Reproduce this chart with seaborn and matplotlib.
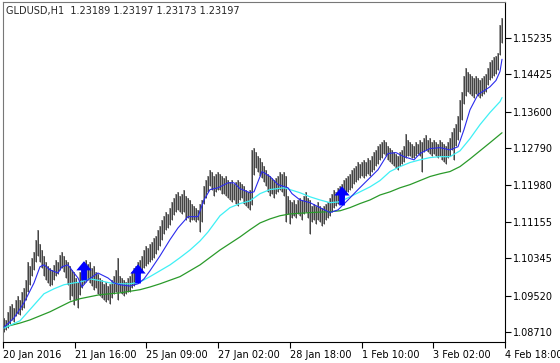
import numpy as np
import pandas as pd
import seaborn as sns
import matplotlib.pyplot as plt
from matplotlib.path import Path

# --- chart data ---
chart_title = "GLDUSD,H1  1.23189 1.23197 1.23173 1.23197"

bar_high = [
    1.0902, 1.0898, 1.0916, 1.0929, 1.0933, 1.0924, 1.0942, 1.0951, 1.0942, 1.0960,
    1.0969, 1.0987, 1.1027, 1.1018, 1.1036, 1.1049, 1.1076, 1.1098, 1.1067, 1.1053,
    1.1040, 1.1027, 1.1018, 1.1013, 1.1009, 1.1020, 1.1031, 1.1027, 1.1042, 1.1049,
    1.1040, 1.1031, 1.1027, 1.1018, 1.1009, 1.1004, 1.0991, 1.0982, 1.1004, 1.1018,
    1.1027, 1.1031, 1.1022, 1.1027, 1.1013, 1.1018, 1.1004, 1.1000, 1.0991, 1.0987,
    1.0978, 1.0982, 1.0973, 1.0978, 1.0987, 1.0996, 1.1009, 1.1036, 1.0996, 1.0991,
    1.0987, 1.0982, 1.0991, 1.0996, 1.1004, 1.1013, 1.1018, 1.1027, 1.1031, 1.1040,
    1.1053, 1.1062, 1.1058, 1.1067, 1.1071, 1.1080, 1.1084, 1.1098, 1.1107, 1.1120,
    1.1129, 1.1138, 1.1133, 1.1147, 1.1160, 1.1169, 1.1178, 1.1182, 1.1173, 1.1178,
    1.1187, 1.1173, 1.1169, 1.1164, 1.1155, 1.1151, 1.1147, 1.1142, 1.1155, 1.1164,
    1.1195, 1.1209, 1.1218, 1.1231, 1.1227, 1.1218, 1.1222, 1.1227, 1.1222, 1.1218,
    1.1213, 1.1218, 1.1209, 1.1204, 1.1209, 1.1200, 1.1204, 1.1209, 1.1204, 1.1200,
    1.1195, 1.1187, 1.1182, 1.1187, 1.1275, 1.1280, 1.1271, 1.1262, 1.1258, 1.1249,
    1.1240, 1.1231, 1.1222, 1.1218, 1.1213, 1.1209, 1.1213, 1.1218, 1.1227, 1.1222,
    1.1227, 1.1218, 1.1173, 1.1164, 1.1160, 1.1164, 1.1155, 1.1164, 1.1169, 1.1164,
    1.1173, 1.1182, 1.1169, 1.1164, 1.1151, 1.1155, 1.1151, 1.1160, 1.1151, 1.1147,
    1.1151, 1.1155, 1.1160, 1.1169, 1.1178, 1.1187, 1.1182, 1.1191, 1.1195, 1.1200,
    1.1209, 1.1213, 1.1218, 1.1222, 1.1231, 1.1235, 1.1240, 1.1249, 1.1244, 1.1249,
    1.1253, 1.1249, 1.1258, 1.1253, 1.1262, 1.1271, 1.1275, 1.1284, 1.1289, 1.1293,
    1.1298, 1.1293, 1.1284, 1.1280, 1.1275, 1.1271, 1.1267, 1.1262, 1.1271, 1.1275,
    1.1284, 1.1311, 1.1298, 1.1293, 1.1289, 1.1284, 1.1293, 1.1289, 1.1298, 1.1293,
    1.1302, 1.1307, 1.1298, 1.1302, 1.1293, 1.1298, 1.1293, 1.1289, 1.1298, 1.1293,
    1.1289, 1.1284, 1.1293, 1.1302, 1.1315, 1.1324, 1.1333, 1.1351, 1.1386, 1.1404,
    1.1440, 1.1457, 1.1448, 1.1444, 1.1440, 1.1435, 1.1440, 1.1435, 1.1431, 1.1435,
    1.1440, 1.1444, 1.1457, 1.1471, 1.1475, 1.1480, 1.1484, 1.1489, 1.1551, 1.1568,
]

bar_low = [
    1.0872, 1.0876, 1.0880, 1.0889, 1.0898, 1.0893, 1.0907, 1.0911, 1.0909, 1.0920,
    1.0924, 1.0942, 1.0960, 1.0976, 1.0996, 1.1009, 1.1027, 1.1040, 1.1027, 1.1013,
    1.0996, 1.0987, 1.0980, 1.0973, 1.0976, 1.0987, 1.0996, 1.1000, 1.1009, 1.1013,
    1.1004, 1.0991, 1.0976, 1.0942, 1.0951, 1.0931, 1.0942, 1.0924, 1.0953, 1.0969,
    1.0978, 1.0982, 1.0987, 1.0980, 1.0973, 1.0965, 1.0969, 1.0956, 1.0951, 1.0947,
    1.0942, 1.0938, 1.0942, 1.0933, 1.0947, 1.0956, 1.0960, 1.0942, 1.0960, 1.0956,
    1.0951, 1.0956, 1.0960, 1.0960, 1.0969, 1.0973, 1.0987, 1.0996, 1.1000, 1.1004,
    1.1013, 1.1018, 1.1022, 1.1027, 1.1031, 1.1036, 1.1044, 1.1053, 1.1062, 1.1076,
    1.1089, 1.1098, 1.1102, 1.1109, 1.1120, 1.1131, 1.1138, 1.1142, 1.1138, 1.1133,
    1.1138, 1.1120, 1.1124, 1.1116, 1.1120, 1.1120, 1.1116, 1.1120, 1.1093, 1.1116,
    1.1155, 1.1169, 1.1182, 1.1195, 1.1187, 1.1173, 1.1182, 1.1187, 1.1187, 1.1178,
    1.1178, 1.1173, 1.1169, 1.1164, 1.1160, 1.1164, 1.1155, 1.1151, 1.1164, 1.1169,
    1.1155, 1.1151, 1.1147, 1.1142, 1.1153, 1.1220, 1.1235, 1.1227, 1.1218, 1.1213,
    1.1204, 1.1195, 1.1182, 1.1173, 1.1178, 1.1169, 1.1178, 1.1182, 1.1187, 1.1182,
    1.1173, 1.1116, 1.1133, 1.1111, 1.1124, 1.1129, 1.1124, 1.1133, 1.1129, 1.1120,
    1.1133, 1.1138, 1.1124, 1.1089, 1.1116, 1.1120, 1.1111, 1.1120, 1.1116, 1.1107,
    1.1111, 1.1120, 1.1124, 1.1129, 1.1138, 1.1147, 1.1151, 1.1155, 1.1160, 1.1164,
    1.1169, 1.1178, 1.1182, 1.1187, 1.1191, 1.1200, 1.1204, 1.1209, 1.1213, 1.1218,
    1.1213, 1.1218, 1.1222, 1.1218, 1.1227, 1.1231, 1.1240, 1.1244, 1.1253, 1.1258,
    1.1267, 1.1262, 1.1253, 1.1249, 1.1244, 1.1240, 1.1235, 1.1231, 1.1240, 1.1244,
    1.1249, 1.1258, 1.1262, 1.1262, 1.1258, 1.1258, 1.1262, 1.1267, 1.1262, 1.1227,
    1.1271, 1.1275, 1.1271, 1.1267, 1.1262, 1.1267, 1.1262, 1.1258, 1.1262, 1.1253,
    1.1249, 1.1244, 1.1258, 1.1262, 1.1275, 1.1253, 1.1284, 1.1298, 1.1315, 1.1342,
    1.1377, 1.1395, 1.1404, 1.1400, 1.1395, 1.1391, 1.1400, 1.1395, 1.1391, 1.1395,
    1.1400, 1.1404, 1.1418, 1.1431, 1.1435, 1.1440, 1.1444, 1.1453, 1.1486, 1.1511,
]

# moving averages, sampled at these bar numbers
fast_ma_bar = [0, 5, 10, 15, 18, 20, 23, 27, 29, 32, 35, 37, 39, 42, 47, 52, 55, 58,
               63, 67, 70, 73, 78, 83, 87, 92, 97, 100, 103, 107, 112, 115, 118, 123,
               125, 129, 133, 137, 142, 144, 148, 153, 158, 163, 167, 172, 177, 182,
               187, 192, 196, 200, 205, 208, 213, 218, 223, 227, 230, 233, 237, 241,
               243, 246, 248, 249]
fast_ma = [1.0882, 1.0902, 1.0936, 1.0980, 1.1016, 1.1020, 1.1009, 1.1002, 1.1016,
           1.1020, 1.1002, 1.0991, 1.0971, 1.0987, 1.1002, 1.0991, 1.0980, 1.0976,
           1.0973, 1.0978, 1.0989, 1.1007, 1.1040, 1.1076, 1.1102, 1.1127, 1.1127,
           1.1164, 1.1187, 1.1191, 1.1202, 1.1202, 1.1189, 1.1180, 1.1182, 1.1227,
           1.1216, 1.1198, 1.1191, 1.1178, 1.1164, 1.1158, 1.1147, 1.1136, 1.1142,
           1.1164, 1.1187, 1.1209, 1.1231, 1.1267, 1.1269, 1.1260, 1.1253, 1.1267,
           1.1278, 1.1280, 1.1275, 1.1282, 1.1320, 1.1364, 1.1398, 1.1409, 1.1415,
           1.1429, 1.1449, 1.1476]

mid_ma_bar = [0, 8, 12, 15, 20, 25, 30, 35, 38, 43, 48, 53, 58, 63, 68, 73, 78, 83,
              88, 93, 98, 102, 108, 113, 118, 123, 128, 133, 140, 143, 148, 153, 158,
              163, 168, 173, 178, 183, 188, 193, 198, 203, 208, 213, 218, 223, 228,
              233, 238, 243, 248, 249]
mid_ma = [1.0880, 1.0896, 1.0916, 1.0931, 1.0956, 1.0967, 1.0976, 1.0980, 1.0982,
          1.0989, 1.0985, 1.0980, 1.0978, 1.0978, 1.0982, 1.0994, 1.1007, 1.1020,
          1.1036, 1.1053, 1.1073, 1.1093, 1.1129, 1.1147, 1.1156, 1.1162, 1.1178,
          1.1187, 1.1191, 1.1187, 1.1180, 1.1171, 1.1164, 1.1158, 1.1160, 1.1171,
          1.1182, 1.1193, 1.1207, 1.1227, 1.1238, 1.1247, 1.1253, 1.1258, 1.1260,
          1.1260, 1.1273, 1.1300, 1.1331, 1.1358, 1.1382, 1.1391]

slow_ma_bar = [0, 8, 13, 18, 23, 28, 33, 38, 48, 58, 68, 73, 78, 88, 98, 108, 118,
               123, 128, 133, 138, 143, 153, 163, 168, 173, 178, 183, 188, 193, 198,
               203, 208, 213, 218, 223, 228, 233, 238, 243, 249]
slow_ma = [1.0882, 1.0891, 1.0898, 1.0907, 1.0916, 1.0927, 1.0938, 1.0945, 1.0954,
           1.0958, 1.0965, 1.0971, 1.0978, 1.0994, 1.1020, 1.1053, 1.1082, 1.1098,
           1.1113, 1.1122, 1.1129, 1.1133, 1.1136, 1.1138, 1.1140, 1.1147, 1.1156,
           1.1164, 1.1175, 1.1182, 1.1191, 1.1198, 1.1207, 1.1216, 1.1222, 1.1227,
           1.1238, 1.1255, 1.1273, 1.1291, 1.1313]

# buy signal arrows
signal_bar = [40, 67, 169]
signal_price = [1.1007, 1.1000, 1.1173]

time_labels = ["20 Jan 2016", "21 Jan 16:00", "25 Jan 09:00", "27 Jan 02:00",
               "28 Jan 18:00", "1 Feb 10:00", "3 Feb 02:00", "4 Feb 18:00"]
price_ticks = [1.15235, 1.14425, 1.13600, 1.12790, 1.11980,
               1.11155, 1.10345, 1.09520, 1.08710]

# --- layout ---
time_tick_pos = [-0.5, 35.5, 71, 107, 143, 179, 214.5, 250.5]

sns.set_style("white")
plt.rcParams['font.family'] = ['DejaVu Sans']

fig = plt.figure(figsize=(5.6, 3.63), dpi=100)
ax = fig.add_axes([3 / 560, 21 / 363, 502 / 560, 340 / 363])

# price bars: one thin stroke per hour, low to high
bars = pd.DataFrame({"bar": np.arange(len(bar_high)), "high": bar_high, "low": bar_low})
ax.vlines(bars["bar"], bars["low"], bars["high"], color="#9a9a9a", linewidth=1.4, zorder=2)
ax.vlines(bars["bar"] - 0.2, bars["low"], bars["high"], color="#2a2a2a", linewidth=0.55, zorder=2)

sns.lineplot(x=slow_ma_bar, y=slow_ma, color="#2a9a2a", linewidth=0.9, ax=ax, zorder=3)
sns.lineplot(x=mid_ma_bar, y=mid_ma, color="#3ff0f5", linewidth=0.9, ax=ax, zorder=3)
sns.lineplot(x=fast_ma_bar, y=fast_ma, color="#2a2aee", linewidth=0.8, ax=ax, zorder=4)

# thick up arrow like the MT4 wingdings glyph
arrow_verts = [(-0.40, 0.02), (0.0, 0.5), (0.40, 0.02), (0.15, 0.02), (0.15, -0.5),
               (-0.15, -0.5), (-0.15, 0.02), (-0.40, 0.02)]
arrow_codes = [Path.MOVETO] + [Path.LINETO] * 6 + [Path.CLOSEPOLY]
arrow = Path(arrow_verts, arrow_codes)
ax.scatter(signal_bar, signal_price, marker=arrow, s=190, color="#0000ff",
           edgecolors="none", zorder=5)

ax.set_xlim(-0.5, 250.5)
ax.set_ylim(1.0849, 1.1603)

ax.yaxis.tick_right()
ax.set_yticks(price_ticks)
ax.set_yticklabels([f"{p:.5f}" for p in price_ticks])
ax.set_xticks(time_tick_pos)
ax.set_xticklabels(time_labels, ha="left")
ax.tick_params(axis="both", direction="out", length=4, width=0.8, labelsize=7,
               color="black", labelcolor="black")
ax.tick_params(axis="y", pad=2, right=True, left=False)
ax.tick_params(axis="x", pad=1.5, bottom=True)
ax.set_xlabel("")
ax.set_ylabel("")
for side in ["left", "top", "right", "bottom"]:
    ax.spines[side].set_visible(True)
    ax.spines[side].set_color("black")
    ax.spines[side].set_linewidth(0.8)
ax.spines["left"].set_color("#777777")
ax.spines["top"].set_color("#777777")

fig.text(6 / 560, 1 - 6 / 363, chart_title, fontsize=7, ha="left", va="top")

fig.savefig("out.png", dpi=100)
